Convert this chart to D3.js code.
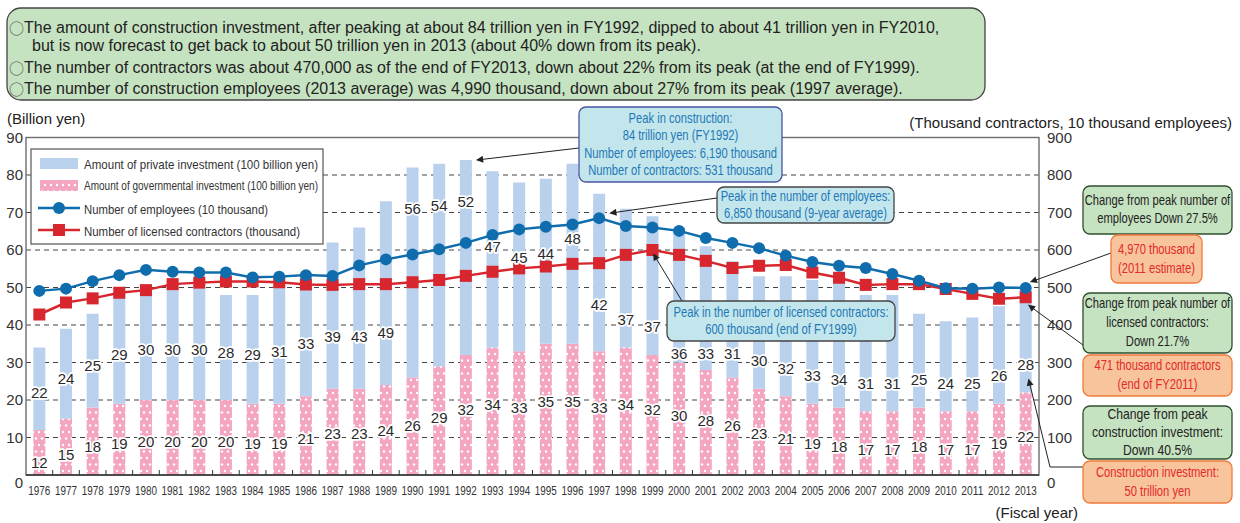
<!DOCTYPE html>
<html>
<head>
<meta charset="utf-8">
<script src="https://cdn.jsdelivr.net/npm/d3@7"></script>
<style>
  body { margin: 0; background: #fff; }
  svg { display: block; font-family: "Liberation Sans", Arial, Helvetica, sans-serif; }
</style>
</head>
<body>
<svg id="chart" width="1240" height="523"></svg>
<script>
const years = [1976, 1977, 1978, 1979, 1980, 1981, 1982, 1983, 1984, 1985, 1986, 1987, 1988,
  1989, 1990, 1991, 1992, 1993, 1994, 1995, 1996, 1997, 1998, 1999, 2000, 2001, 2002, 2003,
  2004, 2005, 2006, 2007, 2008, 2009, 2010, 2011, 2012, 2013];
// 100 billion yen
const privateInvest = [22, 24, 25, 29, 30, 30, 30, 28, 29, 31, 33, 39, 43, 49, 56, 54, 52, 47, 45,
  44, 48, 42, 37, 37, 36, 33, 31, 30, 32, 33, 34, 31, 31, 25, 24, 25, 26, 28];
const govInvest = [12, 15, 18, 19, 20, 20, 20, 20, 19, 19, 21, 23, 23, 24, 26, 29, 32, 34, 33,
  35, 35, 33, 34, 32, 30, 28, 26, 23, 21, 19, 18, 17, 17, 18, 17, 17, 19, 22];
// 10 thousand people
const employees = [491, 497, 517, 533, 547, 542, 540, 540, 527, 529, 533, 531, 559, 575, 588, 602,
  619, 640, 655, 662, 668, 685, 664, 660, 651, 632, 619, 605, 585, 568, 558, 552, 536, 518, 498,
  497, 500, 499];
// thousand contractors
const contractors = [428, 460, 471, 486, 493, 509, 513, 516, 516, 514, 508, 507, 509, 509, 514,
  520, 531, 542, 551, 556, 563, 565, 587, 600, 587, 571, 552, 558, 560, 540, 526, 507, 509, 509,
  496, 483, 470, 474];
const leftTicks = [0, 10, 20, 30, 40, 50, 60, 70, 80, 90];
const rightTicks = [0, 100, 200, 300, 400, 500, 600, 700, 800, 900];

// [bullet, text]
const summaryLines = [
  ["\u25CB", "The amount of construction investment, after peaking at about 84 trillion yen in FY1992, dipped to about 41 trillion yen in FY2010,"],
  ["", "but is now forecast to get back to about 50 trillion yen in 2013 (about 40% down from its peak)."],
  ["\u25CB", "The number of contractors was about 470,000 as of the end of FY2013, down about 22% from its peak (at the end of FY1999)."],
  ["\u25CB", "The number of construction employees (2013 average) was 4,990 thousand, down about 27% from its peak (1997 average)."],
];

const BLUE = "#0f6dad";
const RED = "#d7262e";
const PRIVATE = "#b9d1ed";
const GOV = "#f4a5c1";

const svg = d3.select("#chart");
const plotL = 26, plotR = 1039, plotT = 137.5, plotB = 475;

const x = d3.scaleBand().domain(years).range([plotL, plotR]).paddingInner(0.55).paddingOuter(0.275);
const y = d3.scaleLinear().domain([0, 90]).range([plotB, plotT]);
const yR = d3.scaleLinear().domain([0, 900]).range([plotB, plotT]);
const cx = (yr) => x(yr) + x.bandwidth() / 2;

const rows = years.map((yr, i) => ({
  year: yr, gov: govInvest[i], priv: privateInvest[i],
  emp: employees[i], con: contractors[i],
}));

// defs: dotted pattern + arrow head
const defs = svg.append("defs");
const pat = defs.append("pattern").attr("id", "dots").attr("patternUnits", "userSpaceOnUse")
  .attr("width", 6).attr("height", 13);
pat.append("rect").attr("width", 6).attr("height", 13).attr("fill", GOV);
pat.append("circle").attr("cx", 3).attr("cy", 3).attr("r", 1.2).attr("fill", "#fff");
pat.append("circle").attr("cx", 0).attr("cy", 9.5).attr("r", 1.2).attr("fill", "#fff");
pat.append("circle").attr("cx", 6).attr("cy", 9.5).attr("r", 1.2).attr("fill", "#fff");

defs.append("marker").attr("id", "arrow").attr("viewBox", "0 0 10 10")
  .attr("refX", 9).attr("refY", 5).attr("markerWidth", 9).attr("markerHeight", 7)
  .attr("markerUnits", "userSpaceOnUse").attr("orient", "auto")
  .append("path").attr("d", "M0,0L10,5L0,10z").attr("fill", "#222");

// narrow text helper (condensed look)
function narrow(g, tx, ty, str, opts = {}) {
  const size = opts.size || 14, sx = opts.sx || 0.8;
  return g.append("text")
    .attr("transform", `translate(${tx},${ty}) scale(${sx},1)`)
    .attr("text-anchor", opts.anchor || "middle")
    .attr("dominant-baseline", "central")
    .attr("font-size", size)
    .attr("fill", opts.color || "#222")
    .text(str);
}

function calloutBox(g, bx, by, w, h, fill, stroke, lines, color, opts = {}) {
  g.append("rect").attr("x", bx).attr("y", by).attr("width", w).attr("height", h)
    .attr("rx", opts.rx || 7).attr("fill", fill).attr("stroke", stroke).attr("stroke-width", 1.3);
  const gap = opts.gap || 17.5;
  const y0 = by + h / 2 - ((lines.length - 1) * gap) / 2;
  lines.forEach((ln, i) => narrow(g, bx + w / 2, y0 + i * gap, ln, { color, size: opts.size || 14, sx: opts.sx }));
}

// ---------- summary box ----------
const sum = svg.append("g");
sum.append("rect").attr("x", 7).attr("y", 8).attr("width", 978).attr("height", 92)
  .attr("rx", 14).attr("fill", "#c6e3c1").attr("stroke", "#444").attr("stroke-width", 1.3);
const sumText = sum.selectAll("text").data(summaryLines).join("text")
  .attr("x", (d) => (d[0] ? 9 : 32))
  .attr("y", (d, i) => [27, 45, 67, 88][i])
  .attr("dominant-baseline", "central")
  .attr("font-size", 16).attr("fill", "#222");
sumText.append("tspan").attr("font-family", "Noto Sans CJK JP, DejaVu Sans, sans-serif")
  .attr("font-size", 15).attr("fill", "#555").text((d) => d[0]);
sumText.append("tspan").text((d) => d[1]);

// ---------- axis titles ----------
svg.append("text").attr("x", 7).attr("y", 118).attr("dominant-baseline", "central")
  .attr("font-size", 15).attr("fill", "#222").text("(Billion yen)");
svg.append("text").attr("x", 1232).attr("y", 122).attr("text-anchor", "end")
  .attr("dominant-baseline", "central").attr("font-size", 15).attr("fill", "#222")
  .text("(Thousand contractors, 10 thousand employees)");
svg.append("text").attr("x", 1078).attr("y", 512).attr("text-anchor", "end")
  .attr("dominant-baseline", "central").attr("font-size", 15).attr("fill", "#222")
  .text("(Fiscal year)");

// ---------- grid ----------
svg.append("g").selectAll("line").data(leftTicks.filter((t) => t > 0 && t < 90)).join("line")
  .attr("x1", plotL).attr("x2", plotR).attr("y1", (d) => y(d)).attr("y2", (d) => y(d))
  .attr("stroke", "#444").attr("stroke-width", 1).attr("stroke-dasharray", "5,4");

// ---------- bars ----------
const bars = svg.append("g");
bars.selectAll(".gov").data(rows).join("rect").attr("class", "gov")
  .attr("x", (d) => x(d.year)).attr("width", x.bandwidth())
  .attr("y", (d) => y(d.gov)).attr("height", (d) => y(0) - y(d.gov))
  .attr("fill", "url(#dots)");
bars.selectAll(".priv").data(rows).join("rect").attr("class", "priv")
  .attr("x", (d) => x(d.year)).attr("width", x.bandwidth())
  .attr("y", (d) => y(d.gov + d.priv)).attr("height", (d) => y(d.gov) - y(d.gov + d.priv))
  .attr("fill", PRIVATE);

// ---------- frame & axes ----------
svg.append("rect").attr("x", plotL).attr("y", plotT).attr("width", plotR - plotL).attr("height", plotB - plotT)
  .attr("fill", "none").attr("stroke", "#6d6d6d").attr("stroke-width", 1.4);
svg.append("line").attr("x1", plotL).attr("x2", plotR).attr("y1", plotB).attr("y2", plotB)
  .attr("stroke", "#333").attr("stroke-width", 1.6);

const step = x.step();
svg.append("g").selectAll("line").data(years.slice(1)).join("line")
  .attr("x1", (d) => x(d) - (step * x.paddingInner()) / 2)
  .attr("x2", (d) => x(d) - (step * x.paddingInner()) / 2)
  .attr("y1", plotB).attr("y2", plotB - 5).attr("stroke", "#333").attr("stroke-width", 1);

const axL = svg.append("g").attr("transform", `translate(${plotL},0)`)
  .call(d3.axisLeft(y).tickValues(leftTicks).tickSize(0).tickPadding(3));
const axR = svg.append("g").attr("transform", `translate(${plotR},0)`)
  .call(d3.axisRight(yR).tickValues(rightTicks).tickSize(0).tickPadding(8));
const axB = svg.append("g").attr("transform", `translate(0,${plotB})`)
  .call(d3.axisBottom(x).tickSize(0).tickPadding(11));
[axL, axR, axB].forEach((a) => {
  a.select(".domain").remove();
  a.selectAll("text").attr("font-family", "Liberation Sans, Arial, sans-serif").attr("fill", "#333");
});
axL.selectAll("text").attr("font-size", 15);
axR.selectAll("text").attr("font-size", 15);
axL.selectAll(".tick").filter((d) => d === 0).select("text").attr("dy", "0.85em");
axR.selectAll(".tick").filter((d) => d === 0).select("text").attr("dy", "0.85em");
axB.selectAll("text").attr("font-size", 12).attr("textLength", 22).attr("lengthAdjust", "spacingAndGlyphs");

// ---------- lines ----------
const empLine = d3.line().x((d) => cx(d.year)).y((d) => yR(d.emp));
const conLine = d3.line().x((d) => cx(d.year)).y((d) => yR(d.con));
svg.append("path").datum(rows).attr("d", conLine).attr("fill", "none").attr("stroke", RED).attr("stroke-width", 2.5);
svg.append("path").datum(rows).attr("d", empLine).attr("fill", "none").attr("stroke", BLUE).attr("stroke-width", 2.5);
svg.append("g").selectAll("rect").data(rows).join("rect")
  .attr("x", (d) => cx(d.year) - 6).attr("y", (d) => yR(d.con) - 6)
  .attr("width", 12).attr("height", 12).attr("fill", RED);
svg.append("g").selectAll("circle").data(rows).join("circle")
  .attr("cx", (d) => cx(d.year)).attr("cy", (d) => yR(d.emp)).attr("r", 6).attr("fill", BLUE);

// ---------- value labels ----------
function privLevel(d) {
  const total = d.gov + d.priv;
  if (d.year < 1990) return d.gov + Math.min(d.priv * 0.45, 14);
  if (d.year <= 1992) return total - 11;
  if (d.year <= 1996) return total - 20;
  if (d.year <= 1999) return total - 29.5;
  return Math.min(d.gov + 7.5, 32.5);
}
const labels = svg.append("g").attr("font-size", 15).attr("fill", "#2a2a2a")
  .attr("text-anchor", "middle").attr("dominant-baseline", "central")
  .attr("stroke", "#fff").attr("stroke-width", 3.5).attr("paint-order", "stroke")
  .attr("stroke-linejoin", "round");
labels.selectAll(".pl").data(rows).join("text").attr("class", "pl")
  .attr("x", (d) => cx(d.year)).attr("y", (d) => y(privLevel(d))).text((d) => d.priv);
labels.selectAll(".gl").data(rows).join("text").attr("class", "gl")
  .attr("x", (d) => cx(d.year)).attr("y", (d) => y(d.gov * 0.7 - 5)).text((d) => d.gov);

// ---------- legend ----------
const lg = svg.append("g");
lg.append("rect").attr("x", 31).attr("y", 149).attr("width", 292).attr("height", 95)
  .attr("fill", "#fff").attr("stroke", "#555").attr("stroke-width", 1.2);
lg.append("rect").attr("x", 40).attr("y", 158).attr("width", 38).attr("height", 11).attr("fill", PRIVATE);
lg.append("rect").attr("x", 40).attr("y", 180).attr("width", 38).attr("height", 11).attr("fill", "url(#dots)");
lg.append("line").attr("x1", 38).attr("x2", 80).attr("y1", 208).attr("y2", 208).attr("stroke", BLUE).attr("stroke-width", 2.5);
lg.append("circle").attr("cx", 59).attr("cy", 208).attr("r", 6).attr("fill", BLUE);
lg.append("line").attr("x1", 38).attr("x2", 80).attr("y1", 230).attr("y2", 230).attr("stroke", RED).attr("stroke-width", 2.5);
lg.append("rect").attr("x", 53).attr("y", 224).attr("width", 12).attr("height", 12).attr("fill", RED);
[
  ["Amount of private investment (100 billion yen)", 164, 13, 234],
  ["Amount of governmental investment (100 billion yen)", 186, 12.5, 234],
  ["Number of employees (10 thousand)", 209, 13, 184],
  ["Number of licensed contractors (thousand)", 231, 13, 216],
].forEach(([t, ty, fs, w]) => {
  lg.append("text").attr("x", 84).attr("y", ty).attr("dominant-baseline", "central")
    .attr("font-size", fs).attr("fill", "#333").attr("textLength", w)
    .attr("lengthAdjust", "spacingAndGlyphs").text(t);
});

// ---------- annotations ----------
const an = svg.append("g");
const CYAN = "#c3e6ec";
const i1992 = years.indexOf(1992), i1997 = years.indexOf(1997), i1999 = years.indexOf(1999);
const last = rows[rows.length - 1];

function arrow(points) {
  an.append("path").attr("d", d3.line()(points)).attr("fill", "none")
    .attr("stroke", "#222").attr("stroke-width", 1).attr("marker-end", "url(#arrow)");
}

arrow([[579, 148], [x(1992) + x.bandwidth() + 5, y(rows[i1992].gov + rows[i1992].priv)]]);
arrow([[717, 198], [cx(1997) + 11, yR(rows[i1997].emp) - 5]]);
arrow([[682, 301], [cx(1999) + 1, yR(rows[i1999].con) + 4]]);
arrow([[1111, 253], [cx(2013) + 5, yR(last.emp) - 6]]);
arrow([[1083, 345], [cx(2013) + 3, yR(last.con) + 8]]);
arrow([[1083, 467], [1050, 467], [cx(2013) + 3, y(last.gov + 3.5)]]);

calloutBox(an, 579, 107, 203, 75, CYAN, "#4a55a0",
  ["Peak in construction:", "84 trillion yen (FY1992)", "Number of employees: 6,190 thousand", "Number of contractors: 531 thousand"],
  "#1f78b6", { gap: 17.3 });
calloutBox(an, 717, 187, 177, 36, CYAN, "#444",
  ["Peak in the number of employees:", "6,850 thousand  (9-year average)"], "#1f78b6", { gap: 16.5 });
calloutBox(an, 667, 301, 228, 40, CYAN, "#444",
  ["Peak in the number of licensed contractors:", "600 thousand (end of FY1999)"], "#1f78b6", { gap: 17 });

const GREEN = "#c6e3c1", GSTROKE = "#2f4f2f", ORANGE = "#f8c49b", OSTROKE = "#ee7a3c", OTEXT = "#e22a2a";
calloutBox(an, 1083, 186, 149, 48, GREEN, GSTROKE,
  ["Change from peak number of", "employees Down 27.5%"], "#222", { gap: 18 });
calloutBox(an, 1111, 235, 91, 48, ORANGE, OSTROKE,
  ["4,970 thousand", "(2011 estimate)"], OTEXT, { gap: 19 });
calloutBox(an, 1083, 293, 149, 60, GREEN, GSTROKE,
  ["Change from peak number of", "licensed contractors:", "Down 21.7%"], "#222", { gap: 19 });
calloutBox(an, 1083, 355, 149, 41, ORANGE, OSTROKE,
  ["471 thousand contractors", "(end of FY2011)"], OTEXT, { gap: 19 });
calloutBox(an, 1083, 406, 149, 53, GREEN, GSTROKE,
  ["Change from peak", "construction investment:", "Down 40.5%"], "#222", { gap: 18, size: 14.5, sx: 0.84 });
calloutBox(an, 1083, 461, 149, 42, ORANGE, OSTROKE,
  ["Construction investment:", "50 trillion yen"], OTEXT, { gap: 19 });
</script>
</body>
</html>
